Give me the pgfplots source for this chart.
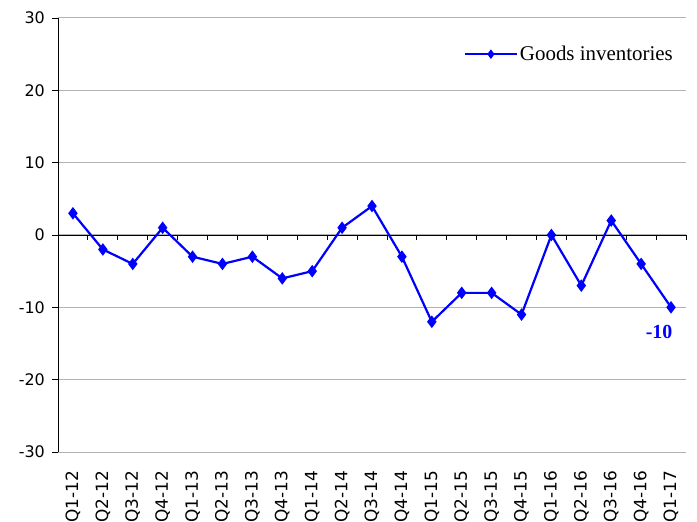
\documentclass[border=0pt]{standalone}
\usepackage{pgfplots}
\pgfplotsset{compat=1.18}
\usepackage{fontspec}
\setmainfont{Liberation Serif}
\newfontfamily\dejavu{DejaVu Sans}
\definecolor{serblue}{RGB}{0,0,255}
\definecolor{gridgray}{RGB}{178,178,178}

\begin{document}
\begin{tikzpicture}
% frame, grid and tick labels
\begin{axis}[
  width=628bp, height=434bp, scale only axis,
  xmin=0.5, xmax=21.5, ymin=-30, ymax=30,
  axis x line*=bottom, axis y line*=left,
  x axis line style={draw=none},
  y axis line style={-, black, line width=0.9bp},
  xtick={1,...,21},
  xticklabels={Q1-12,Q2-12,Q3-12,Q4-12,Q1-13,Q2-13,Q3-13,Q4-13,Q1-14,Q2-14,Q3-14,Q4-14,Q1-15,Q2-15,Q3-15,Q4-15,Q1-16,Q2-16,Q3-16,Q4-16,Q1-17},
  x tick style={draw=none},
  xticklabel style={rotate=90, anchor=east, inner sep=0pt, font=\dejavu\fontsize{17}{17}\selectfont},
  xticklabel shift=13bp,
  ytick={-30,-20,...,30},
  yticklabels={-30,-20,-10,0,10,20,30},
  yticklabel style={font=\dejavu\fontsize{16}{16}\selectfont, inner sep=0pt},
  yticklabel shift=7bp,
  y tick style={black, line width=0.9bp},
  tick align=outside, major tick length=6bp,
  ymajorgrids, grid style={gridgray, line width=1bp},
]
\end{axis}
% zero line with category ticks, data
\begin{axis}[
  width=628bp, height=434bp, scale only axis,
  xmin=0.5, xmax=21.5, ymin=-30, ymax=30,
  axis x line=middle, axis y line=none,
  axis line style={-, black, line width=0.9bp},
  xtick={0.5,1.5,...,21.5}, xticklabels={},
  tick align=outside, major tick length=5bp,
  x tick style={black, line width=0.9bp},
  legend style={draw=none, fill=none, at={(axis description cs:1,1)}, anchor=north east,
    xshift=-8bp, yshift=-24bp, font=\fontsize{21}{21}\selectfont},
  legend cell align=left,
  legend image code/.code={\draw[mark repeat=2, mark phase=2, #1, mark size=3bp] plot coordinates {(0bp,0bp) (26bp,0bp) (52bp,0bp)};},
]
\addplot[serblue, line width=2.2bp, mark=diamond*, mark size=4.5bp] coordinates {
(1,3) (2,-2) (3,-4) (4,1) (5,-3) (6,-4) (7,-3) (8,-6) (9,-5) (10,1) (11,4)
(12,-3) (13,-12) (14,-8) (15,-8) (16,-11) (17,0) (18,-7) (19,2) (20,-4) (21,-10)
};
\legend{Goods inventories}
\node[serblue, anchor=north, inner sep=0pt, font=\bfseries\fontsize{20}{20}\selectfont,
  xshift=-12bp, yshift=-18bp] at (axis cs:21,-10) {-10};
\end{axis}
\pgfresetboundingbox
\path[use as bounding box] ([shift={(-58bp,-70bp)}]current axis.south west) rectangle ([shift={(11bp,18bp)}]current axis.north east);
\end{tikzpicture}
\end{document}
